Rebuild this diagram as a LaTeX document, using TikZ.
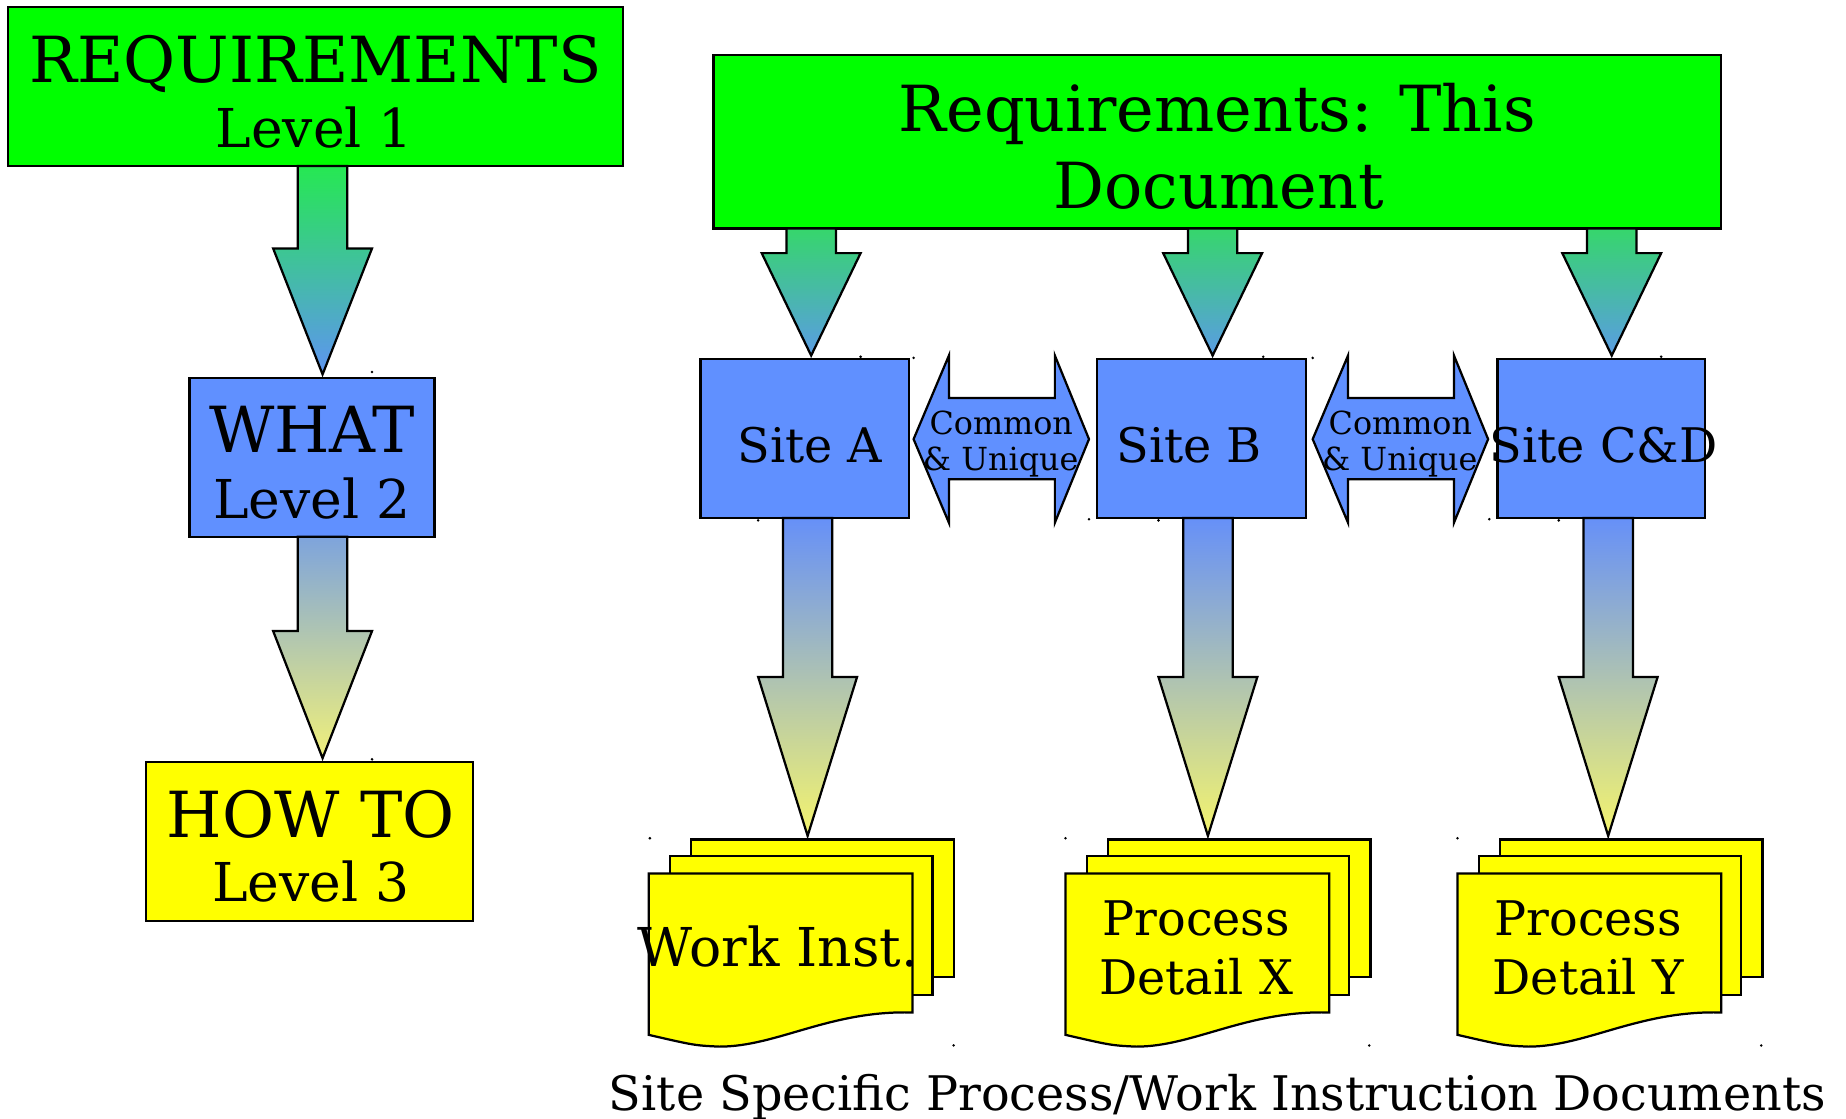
\documentclass[tikz,border=0pt]{standalone}
\usepackage{fontspec}
\setmainfont{DejaVu Serif}
\usetikzlibrary{calc}

\definecolor{reqgreen}{HTML}{00FF00}
\definecolor{siteblue}{HTML}{6090FF}
\definecolor{docyellow}{HTML}{FFFF00}
\definecolor{gtopA}{HTML}{26E852}
\definecolor{gbotA}{HTML}{5E94F2}
\definecolor{gtopB}{HTML}{36D66C}
\definecolor{gbotB}{HTML}{5A9CE4}
\definecolor{btopA}{HTML}{7EA4DC}
\definecolor{bbotA}{HTML}{F0F07A}
\definecolor{btopB}{HTML}{6690F8}
\definecolor{bbotB}{HTML}{F4F46E}

% block arrow from the bottom of node #1 to just above node #2,
% centred at x=#3, head length #4, shading style #5
\newcommand\blockarrow[5]{%
  \draw[outline,#5] let \p1=(#1.south), \p2=(#2.north) in
    (#3pt-21pt,\y1) -- (#3pt+21pt,\y1) -- (#3pt+21pt,\y2+3pt+#4pt)
    -- (#3pt+42pt,\y2+3pt+#4pt) -- (#3pt,\y2+3pt) -- (#3pt-42pt,\y2+3pt+#4pt)
    -- (#3pt-21pt,\y2+3pt+#4pt) -- cycle;}

% double-headed block arrow between two site boxes
\newcommand\twowayarrow[2]{% #1 left tip x, #2 right tip x
  \draw[outline,fill=siteblue]
    (#1,373) -- (#1+30,302) -- (#1+30,338) -- (#2-29,338) -- (#2-29,302)
    -- (#2,373) -- (#2-29,444) -- (#2-29,407) -- (#1+30,407) -- (#1+30,444) -- cycle;}

% stack of three documents, shifted right by #1
\newcommand\docstack[2]{%
  \begin{scope}[xshift=#1pt]
    \node[box,fill=docyellow,minimum width=223pt,minimum height=117pt] (#2back) at (698.5,771.5) {};
    \node[box,fill=docyellow,minimum width=223pt,minimum height=118pt] (#2mid) at (680.5,786) {};
    \draw[outline,fill=docyellow] (551,742) -- (775,742) -- (775,860)
      .. controls (705,858) and (660,889) .. (611,889)
      .. controls (590,888) .. (551,879) -- cycle;
  \end{scope}}

\begin{document}
\begin{tikzpicture}[x=1pt,y=-1pt,
  outline/.style={draw=black,line width=1.9pt,line join=miter},
  box/.style={outline,rectangle,inner sep=0pt,outer sep=0pt},
  txtA/.style={anchor=base,inner sep=0pt,font=\fontsize{54}{60}\selectfont},
  txtB/.style={anchor=base,inner sep=0pt,font=\fontsize{45.5}{50}\selectfont},
  txtC/.style={anchor=base,inner sep=0pt,font=\fontsize{54}{60}\selectfont},
  txtS/.style={anchor=base,inner sep=0pt,font=\fontsize{40.5}{46}\selectfont},
  txtW/.style={anchor=base,inner sep=0pt,font=\fontsize{45.5}{50}\selectfont},
  txtCU/.style={anchor=base,inner sep=0pt,font=\fontsize{27}{31}\selectfont},
  greenfadeA/.style={top color=gtopA,bottom color=gbotA},
  greenfadeB/.style={top color=gtopB,bottom color=gbotB},
  bluefadeA/.style={top color=btopA,bottom color=bbotA},
  bluefadeB/.style={top color=btopB,bottom color=bbotB}]
\useasboundingbox (0,0) rectangle (1568,950);

% left column: the three levels
\node[box,fill=reqgreen,minimum width=522pt,minimum height=135pt] (req) at (268,73.5) {};
\node[box,fill=siteblue,minimum width=208pt,minimum height=135pt] (what) at (265,388.5) {};
\node[box,fill=docyellow,minimum width=278pt,minimum height=135pt] (how) at (263,714.5) {};

\node[txtA] (reqA) at (268,70) {REQUIREMENTS};
\node[txtB] (reqB) at (267,125) {Level 1};
\node[txtA] (whatA) at (265,384) {WHAT};
\node[txtB] (whatB) at (265,440) {Level 2};
\node[txtA] (howA) at (264,711) {HOW TO};
\node[txtB] (howB) at (264,766) {Level 3};

\blockarrow{req}{what}{274}{107}{greenfadeA}
\blockarrow{what}{how}{274}{108}{bluefadeA}

% right part: this document, the sites and their documents
\node[box,fill=reqgreen,minimum width=856pt,minimum height=147pt] (doc) at (1034,120.5) {};
\node[txtC] (docA) at (1034,112) {Requirements: This};
\node[txtC] (docB) at (1035,177) {Document};

\node[box,fill=siteblue,minimum width=177pt,minimum height=135pt] (siteA) at (683.5,372.5) {};
\node[box,fill=siteblue,minimum width=177pt,minimum height=135pt] (siteB) at (1020.5,372.5) {};
\node[box,fill=siteblue,minimum width=176pt,minimum height=135pt] (siteC) at (1360,372.5) {};

\blockarrow{doc}{siteA}{689}{87}{greenfadeB}
\blockarrow{doc}{siteB}{1030}{87}{greenfadeB}
\blockarrow{doc}{siteC}{1369}{87}{greenfadeB}

\twowayarrow{776}{925}
\twowayarrow{1115}{1264}

\node[txtS] (saT) at (688,393) {Site A};
\node[txtS] (sbT) at (1010,393) {Site B};
\node[txtS] (scT) at (1362,393) {Site C\&D};
\node[txtCU] (cuA1) at (850.5,369) {Common};
\node[txtCU] (cuA2) at (850,400) {\& Unique};
\node[txtCU] (cuB1) at (1189.5,369) {Common};
\node[txtCU] (cuB2) at (1189,400) {\& Unique};

\docstack{0}{wi}
\docstack{354}{px}
\docstack{687}{py}

\blockarrow{siteA}{wiback}{686}{135}{bluefadeB}
\blockarrow{siteB}{pxback}{1026}{135}{bluefadeB}
\blockarrow{siteC}{pyback}{1366}{135}{bluefadeB}

\node[txtW] (wiT) at (661,821) {Work Inst.};
\node[txtS] (pxT1) at (1016,795) {Process};
\node[txtS] (pxT2) at (1016,845) {Detail X};
\node[txtS] (pyT1) at (1349,795) {Process};
\node[txtS] (pyT2) at (1349,845) {Detail Y};

\node[txtS] (foot) at (1034,943) {Site Specific Process/Work Instruction Documents};

% small corner marks
\foreach \mx/\my in {316/316,316/645,731/303,776/304,1073/303,1115/304,1411/303,
  644/442,925/441,984/442,1265/441,1324/442,552/712,905/712,1238/712,
  810/888,1163/888,1496/888}
  \fill (\mx,\my) circle (1.2);
\end{tikzpicture}
\end{document}
